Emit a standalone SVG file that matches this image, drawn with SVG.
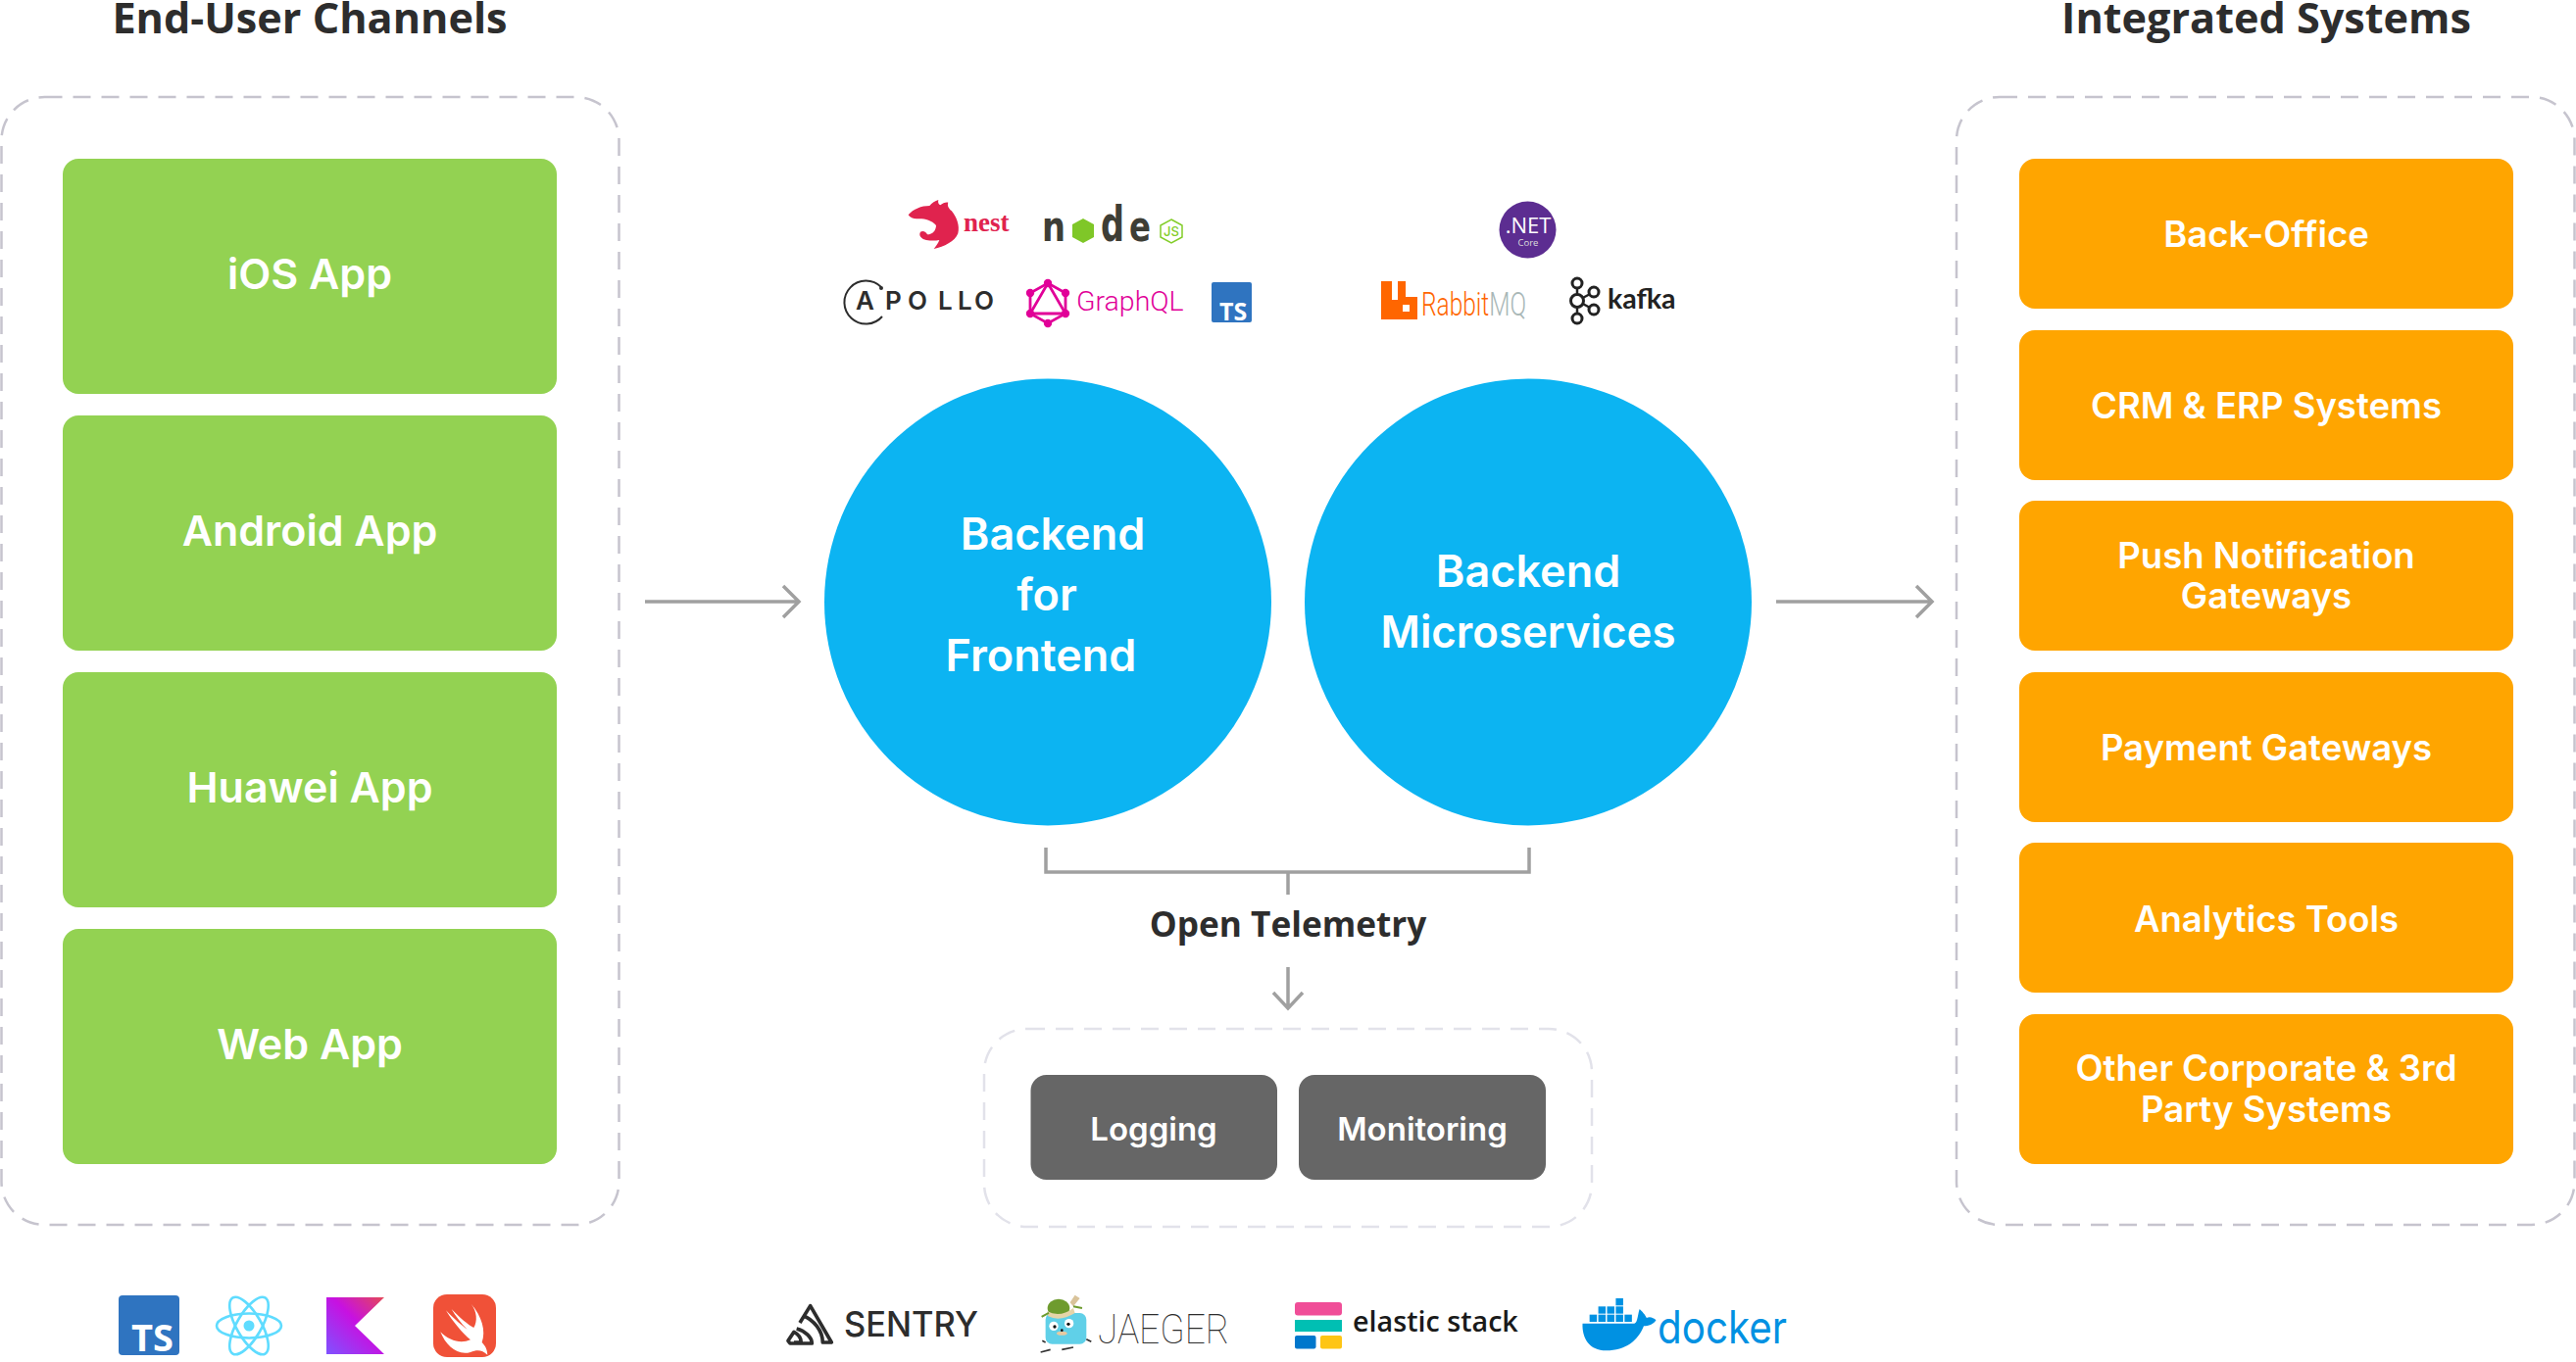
<svg xmlns="http://www.w3.org/2000/svg" width="2628" height="1390" viewBox="0 0 2628 1390">
<defs>
<linearGradient id="kt" x1="0" y1="1" x2="1" y2="0"><stop offset="0" stop-color="#7f52ff"/><stop offset=".55" stop-color="#c711e1"/><stop offset="1" stop-color="#e44857"/></linearGradient>
<style>
text{font-family:"Inter","Liberation Sans",sans-serif}
.h{font-family:"Open Sans","Liberation Sans",sans-serif;font-weight:700;fill:#2d2d2d;text-anchor:middle}
.w{fill:#fff;font-weight:600;text-anchor:middle}
.g{fill:#93d252}.o{fill:#ffa500}.d{fill:#666}.c{fill:#0cb4f2}
.p{fill:none;stroke:#c6c4ce;stroke-width:2.5;stroke-dasharray:18 11}
.pl{stroke:#e2e2ea}
.ln{fill:none;stroke:#a0a0a0;stroke-width:3.5}
.gq{stroke:#e10098;stroke-width:2.8;fill:none}
.nl{font-family:"DejaVu Sans",sans-serif;font-weight:700;fill:#3e3e36}
</style>
</defs>
<rect width="2628" height="1390" fill="#fff"/>
<g id="title-left"><text class="h" x="316" y="34" font-size="43.2">End-User Channels</text></g>
<g id="title-right"><text class="h" x="2312" y="34" font-size="43.2">Integrated Systems</text></g>
<g id="panel-left"><rect class="p" x="1.5" y="99" width="630" height="1151" rx="44"/></g>
<g id="panel-right"><rect class="p" x="1996" y="99" width="630.5" height="1151" rx="44"/></g>
<g id="panel-telemetry"><rect class="p pl" x="1004" y="1050" width="620" height="202" rx="44"/></g>
<g id="node-ios"><rect class="g" x="64" y="162" width="504" height="240" rx="16"/><text class="w" x="316" y="295" font-size="43">iOS App</text></g>
<g id="node-android"><rect class="g" x="64" y="424" width="504" height="240" rx="16"/><text class="w" x="316" y="557" font-size="43">Android App</text></g>
<g id="node-huawei"><rect class="g" x="64" y="686" width="504" height="240" rx="16"/><text class="w" x="316" y="819" font-size="43">Huawei App</text></g>
<g id="node-web"><rect class="g" x="64" y="948" width="504" height="240" rx="16"/><text class="w" x="316" y="1081" font-size="43">Web App</text></g>
<g id="node-backoffice"><rect class="o" x="2060" y="162" width="504" height="153" rx="16"/><text class="w" x="2312" y="252" font-size="36.5">Back-Office</text></g>
<g id="node-crm"><rect class="o" x="2060" y="337" width="504" height="153" rx="16"/><text class="w" x="2312" y="427" font-size="36.5">CRM &amp; ERP Systems</text></g>
<g id="node-push"><rect class="o" x="2060" y="511" width="504" height="153" rx="16"/><text class="w" x="2312" y="580" font-size="36.5">Push Notification</text><text class="w" x="2312" y="621" font-size="36.5">Gateways</text></g>
<g id="node-payment"><rect class="o" x="2060" y="686" width="504" height="153" rx="16"/><text class="w" x="2312" y="776" font-size="36.5">Payment Gateways</text></g>
<g id="node-analytics"><rect class="o" x="2060" y="860" width="504" height="153" rx="16"/><text class="w" x="2312" y="951" font-size="36.5">Analytics Tools</text></g>
<g id="node-other"><rect class="o" x="2060" y="1035" width="504" height="153" rx="16"/><text class="w" x="2312" y="1103" font-size="36.5">Other Corporate &amp; 3rd</text><text class="w" x="2312" y="1145" font-size="36.5">Party Systems</text></g>
<g id="node-bff"><circle class="c" cx="1069" cy="614.5" r="228"/><text class="w" x="1074" y="561" font-size="45">Backend</text><text class="w" x="1068" y="623" font-size="45">for</text><text class="w" x="1062" y="685" font-size="45">Frontend</text></g>
<g id="node-micro"><circle class="c" cx="1559" cy="614.5" r="228"/><text class="w" x="1559" y="599" font-size="45">Backend</text><text class="w" x="1559" y="661" font-size="45" textLength="301" lengthAdjust="spacingAndGlyphs">Microservices</text></g>
<g id="node-logging"><rect class="d" x="1051.5" y="1097" width="251.5" height="107" rx="16"/><text class="w" x="1177" y="1164" font-size="33">Logging</text></g>
<g id="node-monitoring"><rect class="d" x="1325" y="1097" width="252" height="107" rx="16"/><text class="w" x="1451" y="1164" font-size="33">Monitoring</text></g>
<g id="label-telemetry"><text class="h" x="1314" y="955.5" font-size="35.2">Open Telemetry</text></g>
<g id="connectors">
<path class="ln" d="M658 614H813M799 598L815 614L799 630"/>
<path class="ln" d="M1812 614H1970M1955 598L1971 614L1955 630"/>
<path class="ln" d="M1067 865V890H1560V865M1314 890V913"/>
<path class="ln" d="M1314 987V1028M1299 1013L1314 1029L1329 1013"/>
</g>
<g id="logo-nest">
<path transform="translate(820 180) scale(.3333)" fill="#e0234e" d="M320,118C335,100 360,90 385,90C392,82 402,75 412,72C410,80 412,85 418,88C425,82 435,78 442,80C438,90 445,100 452,105C468,125 478,150 472,175C462,200 430,215 398,222C405,212 412,205 415,195C400,198 388,197 375,195C362,192 350,182 357,170C365,165 375,170 378,178C395,178 405,165 405,150C390,132 365,128 345,130C335,130 325,126 320,118Z"/>
<text x="983" y="236" font-size="27" font-weight="700" fill="#e0234e" style="font-family:'Liberation Serif',serif">nest</text>
</g>
<g id="logo-node">
<text class="nl" x="1063" y="246" font-size="42" textLength="24" lengthAdjust="spacingAndGlyphs">n</text>
<polygon fill="#7fc728" points="1105,223 1116,229 1116,242 1105,248 1094,242 1094,229"/>
<text class="nl" x="1123" y="246" font-size="50" textLength="24" lengthAdjust="spacingAndGlyphs">d</text>
<text class="nl" x="1152" y="246" font-size="42" textLength="22" lengthAdjust="spacingAndGlyphs">e</text>
<polygon fill="none" stroke="#83cd29" stroke-width="1.5" points="1195,224 1206,230 1206,242 1195,248 1184,242 1184,230"/>
<text x="1195" y="241" font-size="13" font-weight="500" fill="#83cd29" text-anchor="middle">JS</text>
</g>
<g id="logo-apollo">
<path d="M899 293A22 22 0 1 0 900 323" fill="none" stroke="#2d2d2d" stroke-width="2"/>
<circle cx="899" cy="294" r="2" fill="#2d2d2d"/>
<text y="316" font-size="26" font-weight="600" fill="#2d2d2d" x="873 903 926 957 977 994">APOLLO</text>
</g>
<g id="logo-graphql">
<polygon class="gq" points="1069,289 1087,299 1087,320 1069,330 1051,320 1051,299"/>
<polygon class="gq" points="1069,289 1087,320 1051,320"/>
<g fill="#e10098"><circle cx="1069" cy="289" r="4.2"/><circle cx="1087" cy="299" r="4.2"/><circle cx="1087" cy="320" r="4.2"/><circle cx="1069" cy="330" r="4.2"/><circle cx="1051" cy="320" r="4.2"/><circle cx="1051" cy="299" r="4.2"/></g>
<text x="1098" y="317" font-size="28.5" font-weight="300" fill="#e10098" style="font-family:Roboto,sans-serif">GraphQL</text>
</g>
<g id="logo-ts-top"><rect x="1236" y="288" width="41" height="41" rx="2" fill="#2f74c0"/><text x="1244" y="327" font-size="25" font-weight="700" fill="#fff" style="font-family:'Open Sans',sans-serif">TS</text></g>
<g id="logo-dotnet"><circle cx="1558.5" cy="234.5" r="29" fill="#5c2d91"/><text x="1559" y="238" font-size="22" fill="#fff" text-anchor="middle" style="font-family:'Open Sans',sans-serif">.NET</text><text x="1559" y="251" font-size="9.5" fill="#ddd" text-anchor="middle" style="font-family:'Open Sans',sans-serif">Core</text></g>
<g id="logo-rabbit">
<path fill="#ff6600" fill-rule="evenodd" d="M1409 287H1420V306H1426V287H1434V303H1446V326H1409ZM1431 311V318H1438V311Z"/>
<text x="1450" y="322" font-size="33" font-weight="300" textLength="107" lengthAdjust="spacingAndGlyphs" style="font-family:'Roboto',sans-serif"><tspan fill="#ff6600">Rabbit</tspan><tspan fill="#a9b7b7">MQ</tspan></text>
</g>
<g id="logo-kafka">
<path d="M1609 288V330M1609 307L1626 298M1609 307L1626 316" stroke="#222" stroke-width="2.5" fill="none"/>
<g fill="#fff" stroke="#222" stroke-width="3"><circle cx="1609" cy="289" r="5"/><circle cx="1609" cy="307" r="6.5"/><circle cx="1609" cy="325" r="5"/><circle cx="1626" cy="298" r="5"/><circle cx="1626" cy="316" r="5"/></g>
<text x="1640" y="315" font-size="28.5" font-weight="700" fill="#222" style="font-family:Lato,sans-serif">kafka</text>
</g>
<g id="logo-ts-bottom"><rect x="121" y="1322" width="62" height="61" rx="4" fill="#2f74c0"/><text x="134" y="1379" font-size="38" font-weight="700" fill="#fff" style="font-family:'Open Sans',sans-serif">TS</text></g>
<g id="logo-react" fill="none" stroke="#5fdcff" stroke-width="2.6"><ellipse cx="254" cy="1353" rx="33" ry="12.5"/><ellipse cx="254" cy="1353" rx="33" ry="12.5" transform="rotate(60 254 1353)"/><ellipse cx="254" cy="1353" rx="33" ry="12.5" transform="rotate(120 254 1353)"/><circle cx="254" cy="1353" r="5.5" fill="#5fdcff" stroke="none"/></g>
<g id="logo-kotlin"><polygon fill="url(#kt)" points="333,1324 392,1324 362,1353 392,1382 333,1382"/></g>
<g id="logo-swift"><rect x="442" y="1321" width="64" height="64" rx="14" fill="#f05138"/>
<path transform="translate(90 1290) scale(.3333)" fill="#fff" d="M1172,122C1205,160 1218,205 1205,240C1215,250 1222,262 1222,278C1205,262 1190,262 1170,270C1130,282 1095,250 1078,208C1105,235 1140,245 1170,232C1145,212 1115,175 1095,142C1120,168 1145,190 1160,200C1140,180 1125,160 1112,138C1135,162 1165,188 1180,195C1192,175 1190,145 1172,122Z"/></g>
<g id="logo-sentry">
<path transform="translate(780 1290) scale(.3333)" fill="none" stroke="#2d2d2d" stroke-width="11" stroke-linejoin="round" d="M108,180L140,128L205,240H178C178,205 150,170 118,158M98,198C125,205 145,225 145,243H78L72,235L90,208C103,215 112,228 112,240H90"/>
<text x="861" y="1364" font-size="35" font-weight="500" fill="#2d2d2d" textLength="137" lengthAdjust="spacingAndGlyphs">SENTRY</text>
</g>
<g id="logo-jaeger">
<g transform="translate(780 1290) scale(.3333)">
<path d="M935,118L950,95L965,105L945,130Z" fill="#d9c39a"/>
<rect x="860" y="150" width="125" height="95" rx="20" fill="#60d0e8"/>
<ellipse cx="900" cy="135" rx="34" ry="28" fill="#6e9b2e"/>
<path d="M865,145Q905,165 945,135L950,150Q905,178 868,160Z" fill="#e5d4a8"/>
<path d="M848,162L870,150M945,130L972,135" stroke="#6e9b2e" stroke-width="6"/>
<circle cx="885" cy="190" r="14" fill="#fff"/><circle cx="932" cy="182" r="14" fill="#fff"/>
<circle cx="888" cy="192" r="5" fill="#111"/><circle cx="930" cy="184" r="5" fill="#111"/>
<ellipse cx="910" cy="212" rx="16" ry="6" fill="#e8c9a0"/><circle cx="910" cy="203" r="4" fill="#111"/>
<path d="M845,270L875,262M860,240L850,235M910,262L945,255M985,230L1000,238" stroke="#333" stroke-width="5"/>
</g>
<text x="1120" y="1371" font-size="43" font-weight="100" fill="#2d2d2d" textLength="134" lengthAdjust="spacingAndGlyphs" style="font-family:Roboto,sans-serif">JAEGER</text>
</g>
<g id="logo-elastic">
<rect x="1321" y="1329" width="48" height="13.5" rx="3" fill="#f04e98"/>
<rect x="1321" y="1347" width="48" height="12" fill="#00bfb3"/>
<rect x="1321" y="1363" width="21.5" height="13.5" rx="2" fill="#0077cc"/>
<rect x="1347" y="1363" width="22" height="13.5" rx="2" fill="#fec514"/>
<text x="1380" y="1359" font-size="28.7" font-weight="600" fill="#1a1a1a" style="font-family:'Open Sans',sans-serif">elastic stack</text>
</g>
<g id="logo-docker">
<g transform="translate(1280 1290) scale(.357 .3333)" fill="#0091e2">
<path d="M937,182H1085C1095,180 1095,150 1100,138C1112,150 1118,160 1120,165C1130,160 1140,165 1147,172C1140,185 1125,190 1112,190C1095,235 1060,265 1005,265C955,265 935,225 937,182Z"/>
<rect x="957" y="155" width="21" height="22"/><rect x="982" y="155" width="21" height="22"/><rect x="1007" y="155" width="21" height="22"/><rect x="1032" y="155" width="21" height="22"/><rect x="1057" y="155" width="21" height="22"/>
<rect x="982" y="130" width="21" height="22"/><rect x="1007" y="130" width="21" height="22"/><rect x="1032" y="130" width="21" height="22"/>
<rect x="1032" y="105" width="21" height="22"/>
</g>
<text x="1691" y="1371" font-size="46" font-weight="400" fill="#0091e2" textLength="132" lengthAdjust="spacingAndGlyphs" style="font-family:Inter,sans-serif">docker</text>
</g>
</svg>
